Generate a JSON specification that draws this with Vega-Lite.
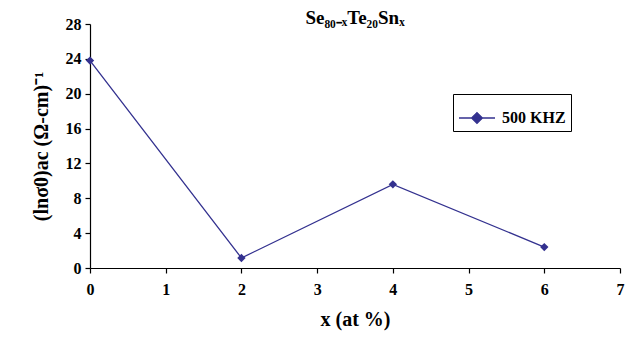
{
  "$schema": "https://vega.github.io/schema/vega-lite/v6.json",
  "width": 530,
  "height": 244,
  "autosize": "none",
  "padding": {"left": 90, "top": 24, "right": 6, "bottom": 73},
  "background": "white",
  "config": {
    "view": {"stroke": null}
  },
  "title": {"text": "Se₈₀₋ₓTe₂₀Snₓ", "font": "Times New Roman, Liberation Serif, serif", "fontSize": 19, "fontWeight": "bold", "color": "black", "anchor": "middle", "offset": -12},
  "data": {"values": [
    {"x": 0, "y": 23.8, "series": "500 KHZ"},
    {"x": 2, "y": 1.15, "series": "500 KHZ"},
    {"x": 4, "y": 9.6, "series": "500 KHZ"},
    {"x": 6, "y": 2.4, "series": "500 KHZ"}
  ]},
  "mark": {"type": "line", "strokeWidth": 1.3, "point": {"shape": "diamond", "size": 70, "filled": true}},
  "encoding": {
    "x": {"field": "x", "type": "quantitative", "scale": {"domain": [0, 7], "nice": false}, "axis": {"values": [0,1,2,3,4,5,6,7], "title": "x (at %)", "grid": false, "domainColor": "black", "tickColor": "black", "domainWidth": 1.2, "tickWidth": 1.2, "tickSize": 5, "labelFont": "Times New Roman, Liberation Serif, serif", "labelFontWeight": "bold", "labelFontSize": 16, "labelColor": "black", "titleFont": "Times New Roman, Liberation Serif, serif", "titleFontWeight": "bold", "titleFontSize": 20, "titleColor": "black", "labelPadding": 8, "titlePadding": 12, "labelFlush": false}},
    "y": {"field": "y", "type": "quantitative", "scale": {"domain": [0, 28], "nice": false}, "axis": {"values": [0,4,8,12,16,20,24,28], "title": "(lnσ0)ac (Ω-cm)⁻¹", "grid": false, "domainColor": "black", "tickColor": "black", "domainWidth": 1.2, "tickWidth": 1.2, "tickSize": 5, "labelFont": "Times New Roman, Liberation Serif, serif", "labelFontWeight": "bold", "labelFontSize": 16, "labelColor": "black", "titleFont": "Times New Roman, Liberation Serif, serif", "titleFontWeight": "bold", "titleFontSize": 20, "titleColor": "black", "labelPadding": 4, "titlePadding": 14}},
    "color": {"field": "series", "type": "nominal", "scale": {"range": ["#33318f"]}, "legend": {"title": null, "orient": "none", "legendX": 363, "legendY": 70, "strokeColor": "black", "fillColor": "white", "padding": 5, "symbolType": "M-1,0L1,0M0,-0.3L0.3,0L0,0.3L-0.3,0Z", "symbolSize": 1296, "symbolStrokeWidth": 1.3, "symbolFillColor": "#33318f", "symbolStrokeColor": "#33318f", "labelFont": "Times New Roman, Liberation Serif, serif", "labelFontWeight": "bold", "labelFontSize": 16, "labelColor": "black", "labelOffset": 6}}
  }
}
